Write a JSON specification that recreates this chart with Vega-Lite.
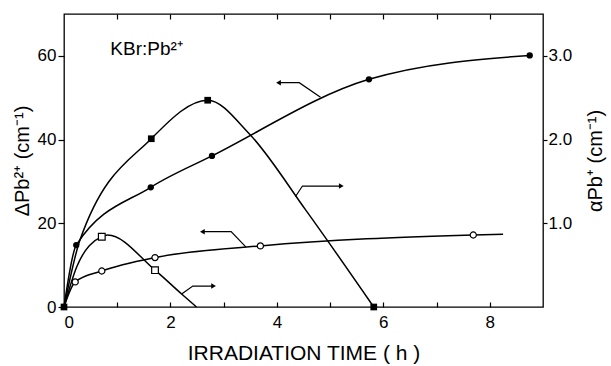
{
  "$schema": "https://vega.github.io/schema/vega-lite/v6.json",
  "width": 479,
  "height": 293,
  "autosize": {"type": "none"},
  "padding": {"left": 64, "top": 14, "right": 68, "bottom": 59},
  "background": "white",
  "config": {
    "view": {"stroke": "black", "strokeWidth": 1.3},
    "font": "Liberation Sans",
    "axis": {
      "labelFont": "Liberation Sans",
      "titleFont": "Liberation Sans",
      "labelColor": "black",
      "titleColor": "black",
      "tickColor": "black",
      "tickWidth": 1.2,
      "domain": false,
      "grid": false,
      "titleFontWeight": "normal",
      "labelFontSize": 17,
      "titleFontSize": 20
    }
  },
  "datasets": {
    "left": [
      {"t": 0, "v": 0, "s": "fc", "m": 0},
      {"t": 0.23, "v": 14.8, "s": "fc", "m": 1},
      {"t": 1.63, "v": 28.6, "s": "fc", "m": 1},
      {"t": 2.78, "v": 36.1, "s": "fc", "m": 1},
      {"t": 5.73, "v": 54.4, "s": "fc", "m": 1},
      {"t": 8.75, "v": 60.1, "s": "fc", "m": 1},
      {"t": 0, "v": 0, "s": "oc", "m": 0},
      {"t": 0.21, "v": 6.0, "s": "oc", "m": 1},
      {"t": 0.71, "v": 8.6, "s": "oc", "m": 1},
      {"t": 1.71, "v": 11.8, "s": "oc", "m": 1},
      {"t": 3.69, "v": 14.6, "s": "oc", "m": 1},
      {"t": 7.69, "v": 17.2, "s": "oc", "m": 1},
      {"t": 8.25, "v": 17.4, "s": "oc", "m": 0}
    ],
    "right": [
      {"t": 0, "v": 0, "s": "fs", "m": 1},
      {"t": 0.3, "v": 0.8, "s": "fs", "m": 0},
      {"t": 1.64, "v": 2.01, "s": "fs", "m": 1},
      {"t": 2.7, "v": 2.47, "s": "fs", "m": 1},
      {"t": 3.48, "v": 2.07, "s": "fs", "m": 0},
      {"t": 4.54, "v": 1.16, "s": "fs", "m": 0},
      {"t": 5.82, "v": 0.0, "s": "fs", "m": 1},
      {"t": 0, "v": 0, "s": "os", "m": 0},
      {"t": 0.24, "v": 0.48, "s": "os", "m": 0},
      {"t": 0.71, "v": 0.84, "s": "os", "m": 1},
      {"t": 0.82, "v": 0.86, "s": "os", "m": 0},
      {"t": 1.71, "v": 0.44, "s": "os", "m": 1},
      {"t": 2.21, "v": 0.155, "s": "os", "m": 0},
      {"t": 2.49, "v": 0, "s": "os", "m": 0}
    ],
    "arrows": [
      {"t": 4.82, "v": 50.1, "a": "a1"},
      {"t": 4.42, "v": 53.6, "a": "a1"},
      {"t": 4.05, "v": 53.6, "a": "a1"},
      {"t": 4.35, "v": 26.4, "a": "a2"},
      {"t": 4.48, "v": 28.9, "a": "a2"},
      {"t": 5.19, "v": 28.9, "a": "a2"},
      {"t": 3.42, "v": 14.3, "a": "a3"},
      {"t": 3.14, "v": 18.0, "a": "a3"},
      {"t": 2.62, "v": 18.0, "a": "a3"},
      {"t": 2.21, "v": 3.1, "a": "a4"},
      {"t": 2.42, "v": 5.0, "a": "a4"},
      {"t": 2.79, "v": 5.0, "a": "a4"}
    ],
    "heads": [
      {"t": 4.03, "v": 53.6, "dir": "left"},
      {"t": 5.21, "v": 28.9, "dir": "right"},
      {"t": 2.6, "v": 18.0, "dir": "left"},
      {"t": 2.81, "v": 5.0, "dir": "right"}
    ],
    "labels": [
      {"t": 0.87, "v": 60.2, "txt": "KBr:Pb²⁺"}
    ]
  },
  "layer": [
    {
      "data": {"name": "left"},
      "mark": {"type": "line", "interpolate": "monotone", "color": "black", "strokeWidth": 1.5},
      "encoding": {
        "x": {"field": "t", "type": "quantitative", "scale": {"domain": [0, 9], "nice": false, "zero": false},
          "axis": {"orient": "bottom", "values": [0, 1, 2, 3, 4, 5, 6, 7, 8], "tickSize": -5, "labelPadding": 12,
            "labelExpr": "datum.value % 2 === 0 ? datum.label : ''", "title": "IRRADIATION  TIME  ( h )", "titleFontSize": 21, "titlePadding": 12}},
        "y": {"field": "v", "type": "quantitative", "scale": {"domain": [0, 70], "nice": false},
          "axis": {"orient": "left", "values": [0, 20, 40, 60], "tickSize": 6, "labelPadding": 2, "title": "ΔPb²⁺ (cm⁻¹)", "titlePadding": 5}},
        "detail": {"field": "s"}
      }
    },
    {
      "data": {"name": "left"},
      "transform": [{"filter": "datum.m == 1 && datum.s == 'fc'"}],
      "mark": {"type": "point", "shape": "circle", "filled": true, "color": "black", "size": 40, "opacity": 1},
      "encoding": {
        "x": {"field": "t", "type": "quantitative", "scale": {"domain": [0, 9], "nice": false, "zero": false}, "axis": null},
        "y": {"field": "v", "type": "quantitative", "scale": {"domain": [0, 70], "nice": false}, "axis": null}
      }
    },
    {
      "data": {"name": "left"},
      "transform": [{"filter": "datum.m == 1 && datum.s == 'oc'"}],
      "mark": {"type": "point", "shape": "circle", "filled": false, "fill": "white", "fillOpacity": 1, "stroke": "black", "strokeWidth": 1.2, "size": 38, "opacity": 1},
      "encoding": {
        "x": {"field": "t", "type": "quantitative", "scale": {"domain": [0, 9], "nice": false, "zero": false}, "axis": null},
        "y": {"field": "v", "type": "quantitative", "scale": {"domain": [0, 70], "nice": false}, "axis": null}
      }
    },
    {
      "data": {"name": "right"},
      "mark": {"type": "line", "interpolate": "monotone", "color": "black", "strokeWidth": 1.5},
      "encoding": {
        "x": {"field": "t", "type": "quantitative", "scale": {"domain": [0, 9], "nice": false, "zero": false},
          "axis": {"orient": "top", "values": [1, 2, 3, 4, 5, 6, 7, 8], "tickSize": -5, "labels": false, "title": null}},
        "y": {"field": "v", "type": "quantitative", "scale": {"domain": [0, 3.5], "nice": false},
          "axis": {"orient": "right", "values": [1, 2, 3], "format": ".1f", "tickSize": 4, "labelPadding": 1, "title": "αPb⁺ (cm⁻¹)", "titleAngle": 270, "titleBaseline": "top", "titlePadding": 14}},
        "detail": {"field": "s"}
      }
    },
    {
      "data": {"name": "right"},
      "transform": [{"filter": "datum.m == 1 && datum.s == 'fs'"}],
      "mark": {"type": "point", "shape": "square", "filled": true, "color": "black", "size": 45, "opacity": 1},
      "encoding": {
        "x": {"field": "t", "type": "quantitative", "scale": {"domain": [0, 9], "nice": false, "zero": false}, "axis": null},
        "y": {"field": "v", "type": "quantitative", "scale": {"domain": [0, 3.5], "nice": false}, "axis": null}
      }
    },
    {
      "data": {"name": "right"},
      "transform": [{"filter": "datum.m == 1 && datum.s == 'os'"}],
      "mark": {"type": "point", "shape": "square", "filled": false, "fill": "white", "fillOpacity": 1, "stroke": "black", "strokeWidth": 1.2, "size": 45, "opacity": 1},
      "encoding": {
        "x": {"field": "t", "type": "quantitative", "scale": {"domain": [0, 9], "nice": false, "zero": false}, "axis": null},
        "y": {"field": "v", "type": "quantitative", "scale": {"domain": [0, 3.5], "nice": false}, "axis": null}
      }
    },
    {
      "data": {"name": "arrows"},
      "mark": {"type": "line", "color": "black", "strokeWidth": 1.2},
      "encoding": {
        "x": {"field": "t", "type": "quantitative", "scale": {"domain": [0, 9], "nice": false, "zero": false}, "axis": null},
        "y": {"field": "v", "type": "quantitative", "scale": {"domain": [0, 70], "nice": false}, "axis": null},
        "detail": {"field": "a"}
      }
    },
    {
      "data": {"name": "heads"},
      "mark": {"type": "point", "filled": true, "color": "black", "size": 30, "opacity": 1},
      "encoding": {
        "x": {"field": "t", "type": "quantitative", "scale": {"domain": [0, 9], "nice": false, "zero": false}, "axis": null},
        "y": {"field": "v", "type": "quantitative", "scale": {"domain": [0, 70], "nice": false}, "axis": null},
        "shape": {"field": "dir", "type": "nominal", "scale": {"domain": ["left", "right"], "range": ["triangle-left", "triangle-right"]}, "legend": null}
      }
    },
    {
      "data": {"name": "labels"},
      "mark": {"type": "text", "align": "left", "baseline": "alphabetic", "fontSize": 19, "font": "Liberation Sans", "color": "black"},
      "encoding": {
        "x": {"field": "t", "type": "quantitative", "scale": {"domain": [0, 9], "nice": false, "zero": false}, "axis": null},
        "y": {"field": "v", "type": "quantitative", "scale": {"domain": [0, 70], "nice": false}, "axis": null},
        "text": {"field": "txt"}
      }
    }
  ],
  "resolve": {"scale": {"y": "independent"}, "axis": {"x": "independent", "y": "independent"}}
}
